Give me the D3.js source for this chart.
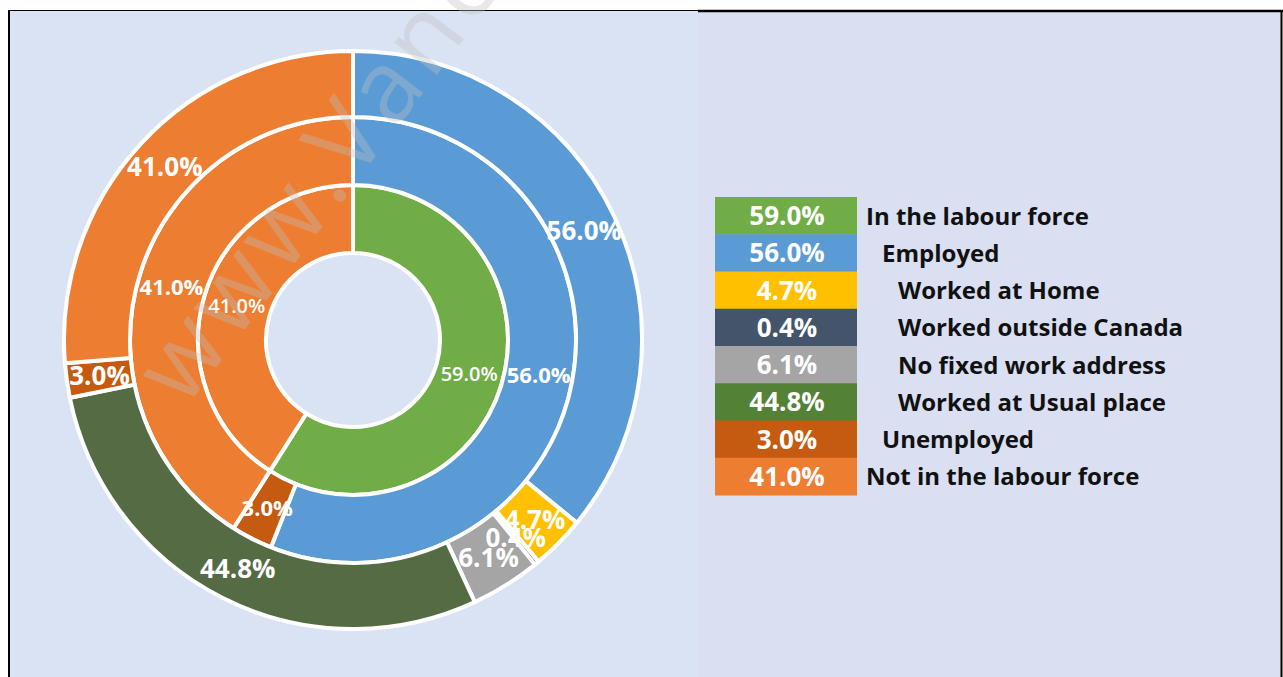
<!DOCTYPE html>
<html>
<head>
<meta charset="utf-8">
<script src="https://cdn.jsdelivr.net/npm/d3@7"></script>
<style>
  body{margin:0;background:#fff;}
  svg{display:block;}
  text{font-family:"Open Sans",sans-serif;}
</style>
</head>
<body>
<svg id="chart" width="1283" height="677"></svg>
<script>
// rings, inside out
const innerLabels=["In the labour force","Not in the labour force"];
const innerValues=[59.0,41.0];
const middleLabels=["Employed","Unemployed","Not in the labour force"];
const middleValues=[56.0,3.0,41.0];
const outerLabels=["Employed","Worked at Home","Worked outside Canada","No fixed work address","Worked at Usual place","Unemployed","Not in the labour force"];
const outerValues=[56.0,4.7,0.4,6.1,44.8,3.0,41.0];

// legend table
const legendLabels=["In the labour force","Employed","Worked at Home","Worked outside Canada","No fixed work address","Worked at Usual place","Unemployed","Not in the labour force"];
const legendValues=[59.0,56.0,4.7,0.4,6.1,44.8,3.0,41.0];
const legendIndent=[0,1,2,2,2,2,1,0];

const colors={
  "In the labour force":"#70ad47",
  "Employed":"#5b9bd5",
  "Worked at Home":"#ffc000",
  "Worked outside Canada":"#44546a",
  "No fixed work address":"#a5a5a5",
  "Worked at Usual place":"#556b44",
  "Unemployed":"#c55a11",
  "Not in the labour force":"#ed7d31"
};
const legendColors=Object.assign({},colors,{"Worked at Usual place":"#538135"});

const svg=d3.select("#chart");
const W=1283,H=677;

// panel backgrounds + frame
svg.append("rect").attr("x",9).attr("y",10).attr("width",689).attr("height",H-10).attr("fill","#dae3f3");
svg.append("rect").attr("x",698).attr("y",10).attr("width",583).attr("height",H-10).attr("fill","#dadff2");
svg.append("line").attr("x1",8).attr("x2",698).attr("y1",10.5).attr("y2",10.5).attr("stroke","#000").attr("stroke-width",1.2);
svg.append("line").attr("x1",698).attr("x2",1283).attr("y1",11).attr("y2",11).attr("stroke","#000").attr("stroke-width",2.5);
svg.append("line").attr("x1",9).attr("x2",9).attr("y1",10).attr("y2",H).attr("stroke","#000").attr("stroke-width",2);
svg.append("line").attr("x1",1281.5).attr("x2",1281.5).attr("y1",10).attr("y2",H).attr("stroke","#000").attr("stroke-width",2);

const cx=353,cy=340;
const g=svg.append("g").attr("transform",`translate(${cx},${cy})`);
const pie=d3.pie().sort(null).value(d=>d.value);

const rings=[
  {labels:innerLabels,values:innerValues,r0:87,r1:155,fs:20,fw:600},
  {labels:middleLabels,values:middleValues,r0:155,r1:223,fs:22,fw:700},
  {labels:outerLabels,values:outerValues,r0:223,r1:289,fs:26,fw:700}
];

rings.forEach(ring=>{
  const data=ring.labels.map((l,i)=>({label:l,value:ring.values[i]}));
  const arcs=pie(data);
  const arc=d3.arc().innerRadius(ring.r0).outerRadius(ring.r1);
  g.append("g").selectAll("path")
    .data(arcs)
    .enter().append("path")
    .attr("d",arc)
    .attr("fill",d=>colors[d.data.label])
    .attr("stroke","#fff")
    .attr("stroke-width",4)
    .attr("stroke-linejoin","miter");
  ring.arcs=arcs;ring.arc=arc;
});

// labels on top of all rings
rings.forEach(ring=>{
  g.append("g").selectAll("text")
    .data(ring.arcs)
    .enter().append("text")
    .attr("transform",d=>`translate(${ring.arc.centroid(d)})`)
    .attr("text-anchor","middle")
    .attr("dy","0.36em")
    .attr("font-size",ring.fs+"px")
    .attr("font-weight",ring.fw)
    .attr("fill","#fff")
    .text(d=>d3.format(".1f")(d.data.value)+"%");
});

// watermark
svg.append("text")
  .attr("transform","translate(185,409) rotate(-53)")
  .attr("font-size","100px")
  .attr("letter-spacing","6px")
  .attr("fill","#c0c0c0")
  .attr("opacity",0.35)
  .text("www.Vancouver");

// legend
const ly=d3.scaleBand().domain(d3.range(legendLabels.length)).range([197,495]).padding(0);
const leg=svg.append("g");
const rows=leg.selectAll("g").data(legendLabels).enter().append("g")
  .attr("transform",(d,i)=>`translate(0,${ly(i)})`);
rows.append("rect")
  .attr("x",715).attr("width",142)
  .attr("height",ly.bandwidth()+0.5)
  .attr("fill",d=>legendColors[d]);
rows.append("text")
  .attr("x",787).attr("y",ly.bandwidth()/2)
  .attr("dy","0.37em")
  .attr("text-anchor","middle")
  .attr("font-size","26px").attr("font-weight",700)
  .attr("fill","#fff")
  .text((d,i)=>d3.format(".1f")(legendValues[i])+"%");
rows.append("text")
  .attr("x",(d,i)=>866+legendIndent[i]*16)
  .attr("y",ly.bandwidth()/2)
  .attr("dy","0.37em")
  .attr("font-size","24px").attr("font-weight",700)
  .attr("fill","#111")
  .text(d=>d);
</script>
</body>
</html>
